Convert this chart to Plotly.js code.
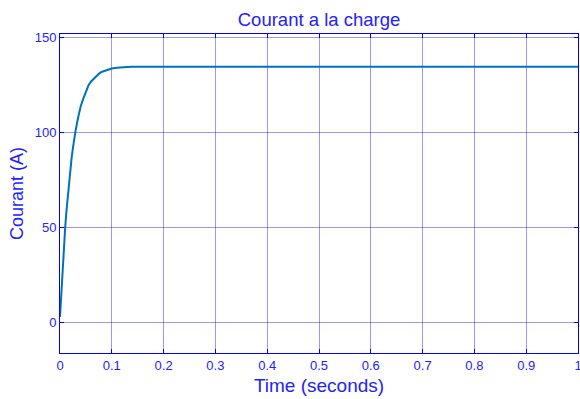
<!DOCTYPE html>
<html>
<head>
<meta charset="utf-8">
<script src="https://cdn.plot.ly/plotly-3.0.1.min.js"></script>
<style>html,body{margin:0;padding:0;background:#fff;}#chart{width:580px;height:399px;}</style>
</head>
<body>
<div id="chart"></div>
<script>
// Time (s)
var timeSeconds = [0, 0.0025, 0.005, 0.0075, 0.01, 0.0125, 0.015, 0.0175, 0.02, 0.0225, 0.025, 0.0275, 0.03,
  0.035, 0.04, 0.045, 0.05, 0.055, 0.06, 0.065, 0.07, 0.075, 0.08, 0.09, 0.1, 0.11, 0.12, 0.13, 0.14, 0.15,
  0.17, 0.2, 0.3, 0.4, 0.5, 0.6, 0.7, 0.8, 0.9, 1.0];
// Load current (A)
var courantA = [3, 16, 28, 40, 50, 59, 67, 75, 81, 87, 92, 97, 101,
  108, 114, 118, 122, 125, 127, 128.5, 130, 131, 132, 133, 133.8, 134.2, 134.5, 134.6, 134.7, 134.8,
  134.8, 134.8, 134.8, 134.8, 134.8, 134.8, 134.8, 134.8, 134.8, 134.8];
var xTicks = [0, 0.1, 0.2, 0.3, 0.4, 0.5, 0.6, 0.7, 0.8, 0.9, 1];
var xTickLabels = ['0', '0.1', '0.2', '0.3', '0.4', '0.5', '0.6', '0.7', '0.8', '0.9', '1'];
var yTicks = [0, 50, 100, 150];

var blue = '#0000ff';
var txtBlue = '#2222ff';
var font = 'Liberation Sans, Arial, sans-serif';

var trace = {
  x: timeSeconds, y: courantA, type: 'scatter', mode: 'lines',
  line: {color: 'rgb(0,114,189)', width: 2}, hoverinfo: 'skip'
};

var axisCommon = {
  showline: true, linecolor: blue, linewidth: 1, mirror: 'ticks',
  ticks: 'inside', ticklen: 4, tickcolor: blue, tickwidth: 1,
  showgrid: true, gridcolor: 'rgba(0,0,255,0.4)', gridwidth: 1,
  zeroline: false, tickfont: {family: font, size: 13, color: txtBlue},
  ticklabeloverflow: 'allow'
};

var layout = {
  width: 580, height: 399,
  margin: {l: 60, r: 2, t: 34, b: 46},
  paper_bgcolor: '#ffffff', plot_bgcolor: '#ffffff',
  showlegend: false,
  title: {text: 'Courant a la charge', font: {family: font, size: 18.5, color: txtBlue},
    x: 0.5, xref: 'paper', y: 1 - 20 / 399, yref: 'container', yanchor: 'middle'},
  xaxis: Object.assign({}, axisCommon, {
    range: [0, 1], tickvals: xTicks, ticktext: xTickLabels,
    title: {text: 'Time (seconds)', font: {family: font, size: 19, color: txtBlue}, standoff: 7}
  }),
  yaxis: Object.assign({}, axisCommon, {
    range: [-16, 152], tickvals: yTicks,
    title: {text: 'Courant (A)', font: {family: font, size: 18, color: txtBlue}, standoff: 6}
  })
};

Plotly.newPlot('chart', [trace], layout, {staticPlot: true, displayModeBar: false});
</script>
</body>
</html>
